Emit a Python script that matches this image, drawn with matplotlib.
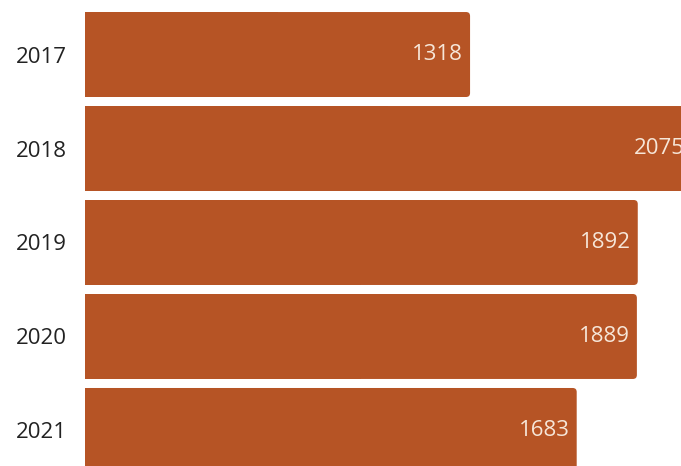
import matplotlib.pyplot as plt
from matplotlib.patches import FancyBboxPatch, Rectangle

# datos
anios = ['2017', '2018', '2019', '2020', '2021']
valores = [1318, 2075, 1892, 1889, 1683]

color_barra = '#B65425'

plt.rcParams['font.family'] = ['Open Sans', 'DejaVu Sans']

fig = plt.figure(figsize=(6.81, 4.66), dpi=100)
ax = fig.add_axes([85 / 681, 0, 1 - 85 / 681, 1])

pos = list(range(len(anios)))
ax.set_xlim(0, 2040)
ax.set_ylim(4.378, -0.58)

# barras base (invisibles), luego se redondean las esquinas derechas
barras = ax.barh(pos, valores, height=0.904, color=color_barra, alpha=0)

# tamano de 1 px en unidades de datos
px_x = 2040 / (681 - 85)
px_y = (4.378 + 0.58) / 466
radio = 4 * px_x
for b in barras:
    x0, y0, w, h = b.get_x(), b.get_y(), b.get_width(), b.get_height()
    ax.add_patch(FancyBboxPatch((x0, y0), w, h,
                                boxstyle=f'round,pad=0,rounding_size={radio}',
                                mutation_aspect=px_y / px_x,
                                facecolor=color_barra, edgecolor='none'))
    ax.add_patch(Rectangle((x0, y0), w / 2, h, facecolor=color_barra,
                           edgecolor='none'))

ax.set_yticks(pos)
ax.set_yticklabels(anios, fontsize=16, color='#222222')
ax.tick_params(axis='y', length=0, pad=13)
ax.set_xticks([])
for s in ax.spines.values():
    s.set_visible(False)

# etiquetas de valor dentro de las barras
for b, v in zip(barras, valores):
    ax.annotate(str(v), xy=(v, b.get_y() + b.get_height() / 2),
                xytext=(-5, 0), textcoords='offset points',
                ha='right', va='center', fontsize=16, color='#F6E6D8',
                annotation_clip=False)

fig.savefig('out.png', dpi=100)
